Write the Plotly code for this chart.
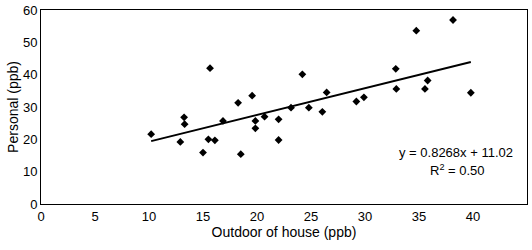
import plotly.graph_objects as go

outdoor = [10.2, 12.9, 13.25, 13.3, 15.0, 15.5, 15.65, 16.1, 16.85, 18.25, 18.5,
           19.55, 19.85, 19.85, 20.7, 22.0, 22.0, 23.15, 24.2, 24.8, 26.05, 26.45,
           29.2, 29.9, 32.85, 32.9, 34.75, 35.55, 35.8, 38.15, 39.8]
personal = [21.6, 19.2, 26.8, 24.7, 15.9, 20.0, 42.0, 19.7, 25.7, 31.3, 15.4,
            33.5, 25.7, 23.4, 27.0, 26.2, 19.8, 29.8, 40.1, 29.8, 28.5, 34.5,
            31.7, 33.0, 41.8, 35.6, 53.6, 35.6, 38.2, 56.9, 34.4]
slope = 0.8268
intercept = 11.02
r2_text = "0.50"
x_ticks = [0, 5, 10, 15, 20, 25, 30, 35, 40, 45]
y_ticks = [0, 10, 20, 30, 40, 50, 60]

x_line = [min(outdoor), max(outdoor)]
y_line = [slope * v + intercept for v in x_line]

fig = go.Figure()
fig.add_trace(go.Scatter(x=x_line, y=y_line, mode="lines",
                         line=dict(color="black", width=2), hoverinfo="skip"))
fig.add_trace(go.Scatter(x=outdoor, y=personal, mode="markers",
                         marker=dict(symbol="diamond", size=6, color="black")))

font = "Liberation Sans, Arial, sans-serif"
fig.add_annotation(x=38.4, y=16.0, xref="x", yref="y",
                   text=f"y = {slope}x + {intercept}", showarrow=False,
                   font=dict(family=font, size=13, color="black"))
fig.add_annotation(x=38.6, y=10.6, xref="x", yref="y",
                   text=f"R<sup>2</sup> = {r2_text}", showarrow=False,
                   font=dict(family=font, size=13, color="black"))

fig.update_layout(
    width=532, height=250,
    margin=dict(l=41, r=5, t=10, b=46, autoexpand=False),
    paper_bgcolor="white", plot_bgcolor="white",
    showlegend=False,
    font=dict(family=font, size=13, color="black"),
    xaxis=dict(range=[0, 45], tickvals=x_ticks, showgrid=False, zeroline=False,
               automargin=False,
               showline=True, linecolor="black", linewidth=1, mirror=True,
               ticks="", title=dict(text="Outdoor of house (ppb)", standoff=4,
                                    font=dict(size=14))),
    yaxis=dict(range=[0, 60], tickvals=y_ticks, showgrid=False, zeroline=False,
               automargin=False,
               showline=True, linecolor="black", linewidth=1, mirror=True,
               ticks="", title=dict(text="Personal (ppb)", standoff=1,
                                    font=dict(size=14))),
)

# remove the browser's default 8px body margin so the figure fills the window
fig.write_html("out.html", config={"displayModeBar": False},
               post_script="document.body.style.margin='0px';")
